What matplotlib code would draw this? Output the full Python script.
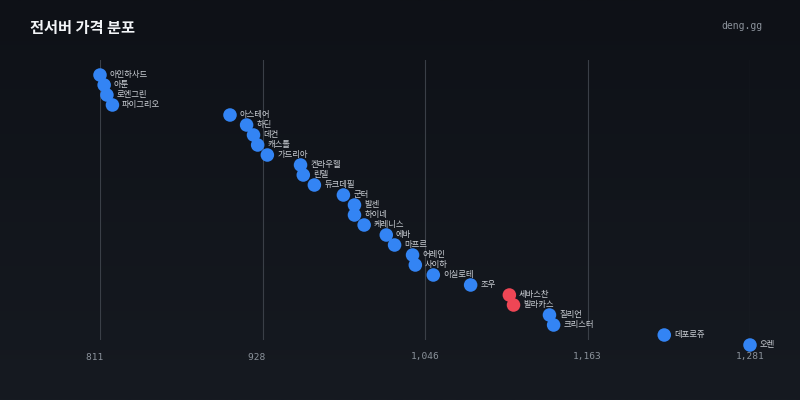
import numpy as np
import matplotlib
matplotlib.use('Agg')
import matplotlib.pyplot as plt

plt.rcParams['font.family'] = ['Noto Sans CJK KR', 'DejaVu Sans']

servers = ['아인하사드', '아툰', '로엔그린', '파이그리오', '아스테어', '하딘', '데컨', '캐스톨',
           '가드리아', '켄라우헬', '린델', '듀크데필', '군터', '발센', '하이네', '케레니스',
           '에바', '마프르', '어레인', '사이하', '이실로테', '조우', '세바스찬', '발라카스',
           '질리언', '크리스터', '데포로쥬', '오렌']
prices = [811, 814, 816, 820, 905, 917, 922, 925,
          932, 956, 958, 966, 987, 995, 995, 1002,
          1018, 1024, 1037, 1039, 1052, 1079, 1107, 1110,
          1136, 1139, 1219, 1281]
highlight = ['세바스찬', '발라카스']

BG_TOP = '#0e1117'
BG_BOT = '#161a21'
BLUE = '#3384f4'
RED = '#ef4655'

fig = plt.figure(figsize=(8, 4), dpi=100)
fig.patch.set_facecolor(BG_TOP)

# background gradient
bg = fig.add_axes([0, 0, 1, 1], zorder=-10)
grad = np.linspace(0, 1, 256).reshape(-1, 1)
cmap = matplotlib.colors.LinearSegmentedColormap.from_list('bg', [BG_TOP, BG_BOT])
bg.imshow(grad, aspect='auto', cmap=cmap, extent=[0, 1, 0, 1])
bg.axis('off')

ax = fig.add_axes([100/800, 60/400, 650/800, 280/400])
ax.patch.set_alpha(0)
lo, hi = min(prices), max(prices)
ax.set_xlim(lo, hi)
ax.set_ylim(len(servers) - 1.5, -1.5)

ticks = np.linspace(lo, hi, 5)
for t in ticks:
    ax.axvline(t, color='#3a3f47', lw=0.8, zorder=1)
ax.set_xticks(ticks)
# fixed width labels, as in the original
ax.set_xticklabels(['{:<5}'.format('{:,}'.format(int(t))) for t in ticks],
                   family='DejaVu Sans Mono', fontsize=6.8, color='#8b929b')
ax.tick_params(axis='x', length=0, pad=9)
ax.set_yticks([])
for s in ax.spines.values():
    s.set_visible(False)

ys = np.arange(len(servers))
colors = [RED if n in highlight else BLUE for n in servers]
ax.scatter(prices, ys, s=95, c=colors, edgecolors='none', zorder=3, clip_on=False)
for n, p, y in zip(servers, prices, ys):
    ax.annotate(n, (p, y), xytext=(7, 0), textcoords='offset points', fontsize=6,
                color='#c9cdd3', va='center', ha='left', zorder=4, annotation_clip=False)

fig.text(30/800, 1 - 28/400, '전서버 가격 분포', fontsize=11, fontweight='bold',
         color='#f2f4f7', va='center', ha='left')
fig.text(762/800, 1 - 26/400, 'deng.gg', family='DejaVu Sans Mono', fontsize=7,
         color='#8b929b', va='center', ha='right')

fig.savefig('out.png', dpi=100, facecolor=fig.get_facecolor())
